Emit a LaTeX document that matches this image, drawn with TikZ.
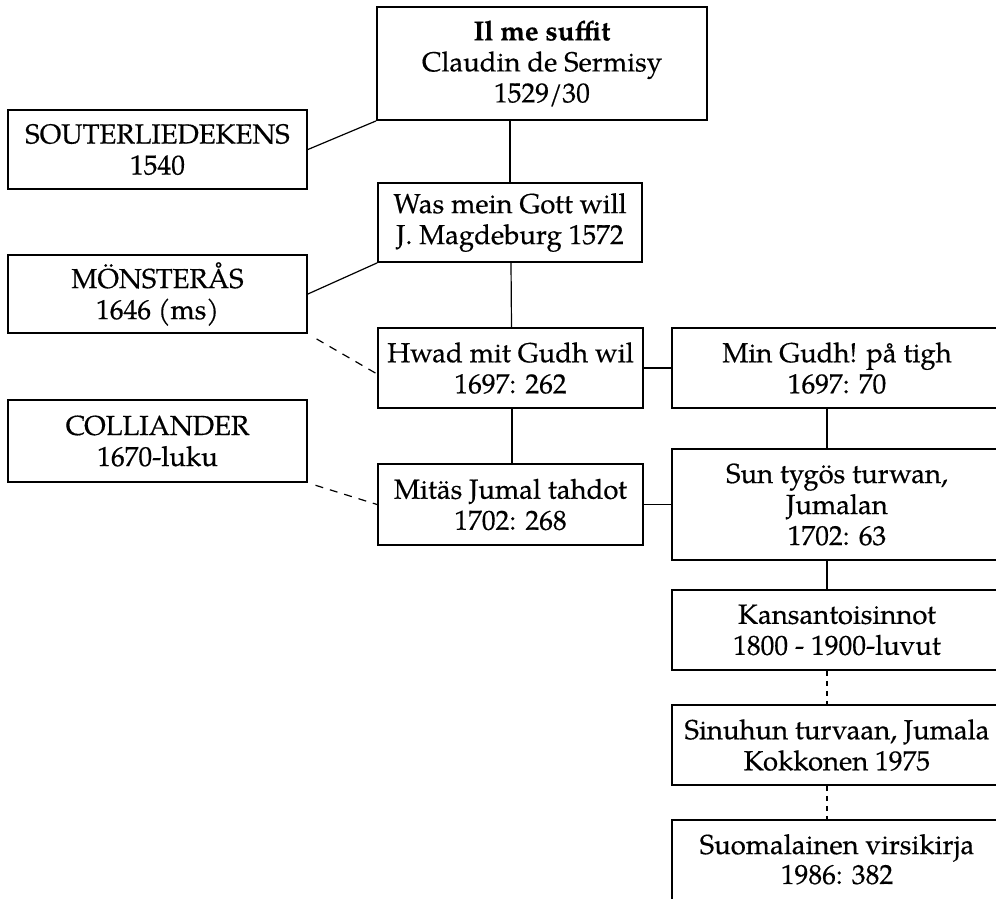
\documentclass[tikz,border=0pt]{standalone}
\usepackage{fontspec}
\setmainfont{texgyrepagella}[Extension=.otf,UprightFont=*-regular,BoldFont=*-bold,ItalicFont=*-italic,BoldItalicFont=*-bolditalic,FakeBold=0.4]
\begin{document}
\begin{tikzpicture}[x=1pt,y=-1pt,
  box/.style={draw,line width=1.8pt,rectangle,align=center,inner sep=0pt,
    font=\fontsize{27.5}{31}\selectfont},
  link/.style={line width=1.2pt},
  dlink/.style={line width=1.2pt,dash pattern=on 8pt off 7pt},
  vdlink/.style={line width=1.2pt,dash pattern=on 5pt off 5pt}]
\useasboundingbox (0,0) rectangle (996,898);
\clip (0,0) rectangle (996,898);
% left column
\node[box,minimum width=299pt,minimum height=79pt] (sout) at (157.5,149.5) {SOUTERLIEDEKENS\\1540};
\node[box,minimum width=299pt,minimum height=78pt] (mons) at (157.5,294) {MÖNSTERÅS\\1646 (ms)};
\node[box,minimum width=299pt,minimum height=82pt] (coll) at (157.5,441) {COLLIANDER\\1670-luku};
% middle column
\node[box,minimum width=330pt,minimum height=113pt] (top) at (542,63.5) {\textbf{Il me suffit}\\Claudin de Sermisy\\1529/30};
\node[box,minimum width=264pt,minimum height=79pt] (was) at (510,222.5) {Was mein Gott will\\J. Magdeburg 1572};
\node[box,minimum width=265pt,minimum height=80pt] (hwad) at (510.5,368) {Hwad mit Gudh wil\\1697: 262};
\node[box,minimum width=265pt,minimum height=81pt] (mitas) at (510.5,504.5) {Mitäs Jumal tahdot\\1702: 268};
% right column
\node[box,minimum width=330pt,minimum height=80pt] (min) at (837,368) {Min Gudh! på tigh\\1697: 70};
\node[box,minimum width=330pt,minimum height=111pt] (sun) at (837,504.5) {Sun tygös turwan,\\Jumalan\\1702: 63};
\node[box,minimum width=330pt,minimum height=80pt] (kans) at (837,630) {Kansantoisinnot\\1800 - 1900-luvut};
\node[box,minimum width=330pt,minimum height=80pt] (sinu) at (837,745) {Sinuhun turvaan, Jumala\\Kokkonen 1975};
\node[box,minimum width=330pt,minimum height=86pt,text depth=0pt] (suom) at (837,863) {\raisebox{8pt}{\shortstack{Suomalainen virsikirja\\1986: 382}}};
% connectors
\draw[link] (sout.east) -- (top.south west);
\draw[link] (mons.east) -- (was.south west);
\draw[dlink,shorten <=10pt] (mons.south east) -- ([yshift=-6pt]hwad.west);
\draw[dlink,shorten <=8pt] (coll.south east) -- (mitas.west);
\draw[link] (was.north) -- (was.north |- top.south);
\draw[link] ([xshift=1pt]hwad.north) -- ([xshift=1pt]was.south);
\draw[link] ([xshift=1.5pt]mitas.north) -- ([xshift=1.5pt]hwad.south);
\draw[link] (hwad.east) -- (min.west);
\draw[link] (mitas.east) -- (sun.west);
\draw[link] ([xshift=-10pt]min.south) -- ([xshift=-10pt]sun.north);
\draw[link] ([xshift=-10pt]sun.south) -- ([xshift=-10pt]kans.north);
\draw[vdlink] ([xshift=-10pt]kans.south) -- ([xshift=-10pt]sinu.north);
\draw[vdlink] ([xshift=-10pt]sinu.south) -- ([xshift=-10pt]suom.north);
\end{tikzpicture}
\end{document}
